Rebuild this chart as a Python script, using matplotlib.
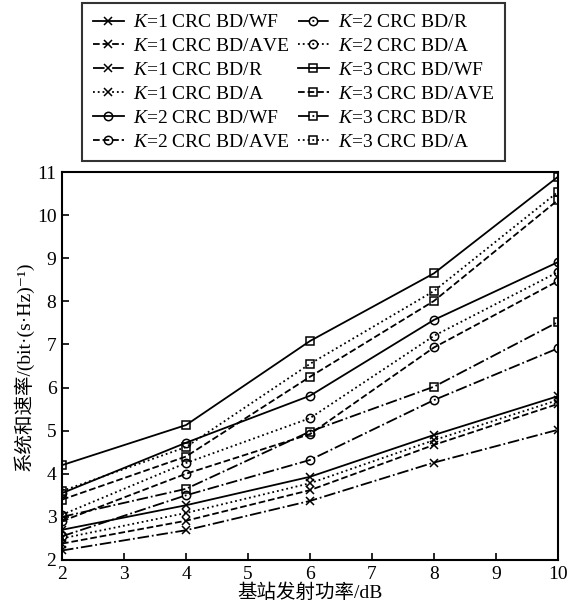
import matplotlib
matplotlib.use('Agg')
import matplotlib.pyplot as plt

plt.rcParams['font.family'] = ['Liberation Serif', 'Noto Sans CJK SC', 'DejaVu Sans']
plt.rcParams['mathtext.fontset'] = 'custom'
plt.rcParams['mathtext.rm'] = 'Liberation Serif'
plt.rcParams['mathtext.it'] = 'Liberation Serif:italic'

power = [2, 4, 6, 8, 10]

k1_wf = [2.70, 3.27, 3.93, 4.90, 5.80]
k1_ave = [2.38, 2.91, 3.62, 4.67, 5.62]
k1_r = [2.22, 2.69, 3.37, 4.26, 5.02]
k1_a = [2.50, 3.09, 3.78, 4.78, 5.71]

k2_wf = [3.55, 4.72, 5.81, 7.57, 8.91]
k2_ave = [2.90, 4.00, 4.92, 6.93, 8.47]
k2_r = [2.55, 3.50, 4.32, 5.71, 6.91]
k2_a = [3.05, 4.25, 5.29, 7.20, 8.68]

k3_wf = [4.20, 5.13, 7.08, 8.65, 10.89]
k3_ave = [3.40, 4.40, 6.25, 8.01, 10.35]
k3_r = [3.00, 3.65, 4.98, 6.02, 7.52]
k3_a = [3.60, 4.62, 6.55, 8.24, 10.54]

series = [
    ('$K$=1 CRC BD/WF', k1_wf, '-', 'x'),
    ('$K$=1 CRC BD/AVE', k1_ave, '--', 'x'),
    ('$K$=1 CRC BD/R', k1_r, '-.', 'x'),
    ('$K$=1 CRC BD/A', k1_a, ':', 'x'),
    ('$K$=2 CRC BD/WF', k2_wf, '-', 'o'),
    ('$K$=2 CRC BD/AVE', k2_ave, '--', 'o'),
    ('$K$=2 CRC BD/R', k2_r, '-.', 'o'),
    ('$K$=2 CRC BD/A', k2_a, ':', 'o'),
    ('$K$=3 CRC BD/WF', k3_wf, '-', 's'),
    ('$K$=3 CRC BD/AVE', k3_ave, '--', 's'),
    ('$K$=3 CRC BD/R', k3_r, '-.', 's'),
    ('$K$=3 CRC BD/A', k3_a, ':', 's'),
]

fig = plt.figure(figsize=(5.77, 6.09), dpi=100)
ax = fig.add_axes([0.1075, 0.0805, 0.8595, 0.637])

for label, vals, ls, mk in series:
    ax.plot(power, vals, linestyle=ls, marker=mk, color='black', linewidth=1.3,
            markersize=6, markerfacecolor='none', markeredgewidth=1.1, label=label)

ax.set_xlim(2, 10)
ax.set_ylim(2, 11)
ax.set_xticks(range(2, 11))
ax.set_yticks(range(2, 12))
ax.tick_params(direction='in', length=5, width=1.2, labelsize=14, pad=4)
for sp in ax.spines.values():
    sp.set_linewidth(1.5)

ax.set_xlabel('基站发射功率/dB', fontsize=14, labelpad=1)
ax.set_ylabel('系统和速率/(bit·(s·Hz)⁻¹)', fontsize=14, labelpad=2)

handles, labels = ax.get_legend_handles_labels()
leg = fig.legend(handles, labels, loc='upper left', bbox_to_anchor=(0.142, 0.995),
                 borderaxespad=0, ncol=2, fontsize=14, frameon=True, fancybox=False,
                 edgecolor='black', handlelength=1.6, handletextpad=0.5,
                 columnspacing=0.4, labelspacing=0.32, borderpad=0.55)
leg.get_frame().set_linewidth(1.5)

fig.savefig('out.png', dpi=100)
